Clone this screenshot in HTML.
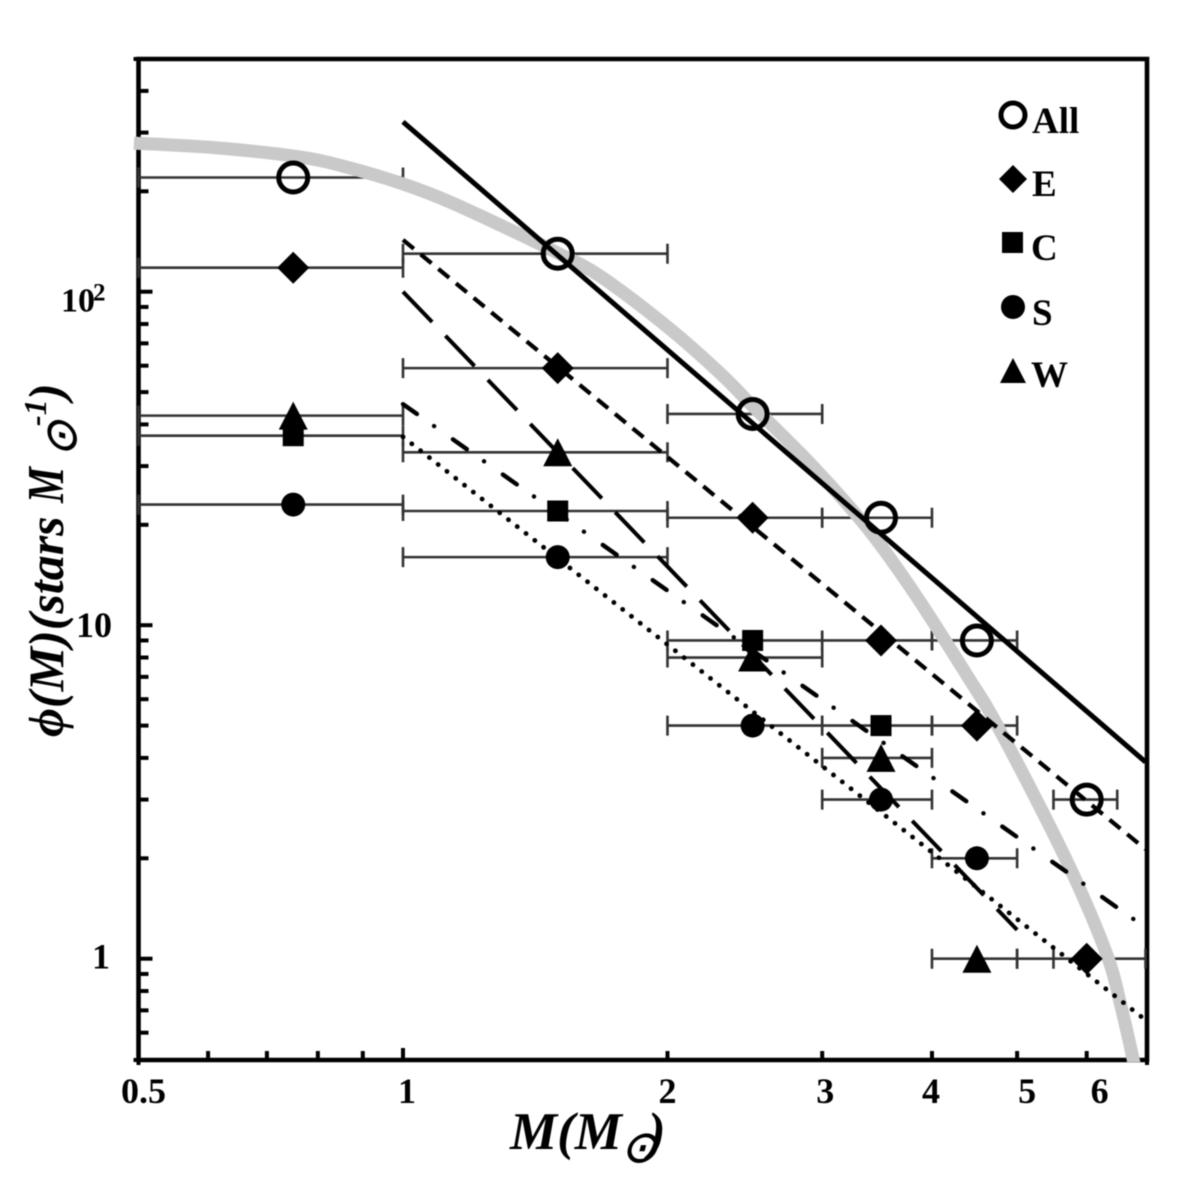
<!DOCTYPE html>
<html lang="en">
<head>
<meta charset="utf-8">
<title>Mass function chart</title>
<style>
  html, body { margin: 0; padding: 0; background: #fff; }
  body { width: 1200px; height: 1177px; overflow: hidden; }
  svg { display: block; filter: blur(0.5px); }
  text { font-family: "Liberation Serif", "DejaVu Serif", serif; font-weight: bold; fill: #000; }
  .it { font-style: italic; }
  .sun { font-family: "DejaVu Sans", sans-serif; font-weight: normal; stroke: #000; stroke-width: 0.7; }
</style>
</head>
<body>
<svg id="chart" xmlns="http://www.w3.org/2000/svg" width="1200" height="1177" viewBox="0 0 1200 1177">
  <defs>
    <clipPath id="curve-clip"><rect x="130" y="50" width="1030" height="1012"></rect></clipPath>
  </defs>
  <rect x="0" y="0" width="1200" height="1177" fill="#fff"></rect>
  <g id="axes"></g>
  <g id="error-bars"></g>
  <g id="model-curve" clip-path="url(#curve-clip)"></g>
  <g id="fit-lines"></g>
  <g id="markers"></g>

  <g>
    <g>
      <circle cx="1013" cy="115" r="12" fill="none" stroke="#000" stroke-width="5"></circle>
      <text x="1032" y="133" font-size="37">All</text>
    </g>
    <g>
      <polygon points="1013,165 1027,179 1013,193 999,179" fill="#000"></polygon>
      <text x="1032" y="196" font-size="37">E</text>
    </g>
    <g>
      <rect x="1002" y="232" width="21" height="21" fill="#000"></rect>
      <text x="1031" y="260" font-size="37">C</text>
    </g>
    <g>
      <circle cx="1013" cy="307" r="12" fill="#000"></circle>
      <text x="1032" y="325" font-size="37">S</text>
    </g>
    <g>
      <polygon points="1013,358 1026,383 1000,383" fill="#000"></polygon>
      <text x="1031" y="387" font-size="37">W</text>
    </g>
  </g>

  <g>
    <text class="it" x="510" y="1149" font-size="53">M(M</text>
    <text class="sun" transform="translate(639,1162) skewX(-15)" font-size="44" text-anchor="middle">⊙</text>
    <text class="it" x="648" y="1149" font-size="53">)</text>
  </g>
  <g>
    <text class="it" transform="translate(63,737) rotate(-90)" font-size="50">ϕ(M)(stars</text>
    <text class="it" transform="translate(63,503) rotate(-90)" font-size="52" textLength="36" lengthAdjust="spacingAndGlyphs">M</text>
    <text class="sun" transform="translate(76,439) rotate(-90) skewX(-15)" font-size="44" text-anchor="middle">⊙</text>
    <text class="it" transform="translate(46,426) rotate(-90)" font-size="32">-1</text>
    <text class="it" transform="translate(63,400) rotate(-90)" font-size="50">)</text>
  </g>
</svg>

<script>
// ---- chart data ----
const xMinorTicks = [0.5, 0.6, 0.7, 0.8, 0.9, 1, 2, 3, 4, 5, 6, 7];
const xTickLabels = ['0.5', '1', '2', '3', '4', '5', '6'];
const xTickLabelValues = [0.5, 1, 2, 3, 4, 5, 6];
const yTicks = [0.5, 0.6, 0.7, 0.8, 0.9, 1, 2, 3, 4, 5, 6, 7, 8, 9, 10, 20, 30, 40, 50, 60, 70, 80, 90, 100, 200, 300, 400, 500];
const yMajorTicks = [1, 10, 100];

const allMass = [0.75, 1.5, 2.5, 3.5, 4.5, 6];
const allPhi = [220, 130, 43, 21, 9, 3];
const allLow = [0.5, 1, 2, 3, 4, 5.5];
const allHigh = [1, 2, 3, 4, 5, 6.5];

const eMass = [0.75, 1.5, 2.5, 3.5, 4.5, 6];
const ePhi = [118, 59, 21, 9, 5, 1];
const eLow = [0.5, 1, 2, 3, 4, 5];
const eHigh = [1, 2, 3, 4, 5, 7];

const cMass = [0.75, 1.5, 2.5, 3.5];
const cPhi = [37, 22, 9, 5];
const cLow = [0.5, 1, 2, 3];
const cHigh = [1, 2, 3, 4];

const sMass = [0.75, 1.5, 2.5, 3.5, 4.5];
const sPhi = [23, 16, 5, 3, 2];
const sLow = [0.5, 1, 2, 3, 4];
const sHigh = [1, 2, 3, 4, 5];

const wMass = [0.75, 1.5, 2.5, 3.5, 4.5];
const wPhi = [42.5, 33, 8, 4, 1];
const wLow = [0.5, 1, 2, 3, 4];
const wHigh = [1, 2, 3, 4, 5];

// lone cap visible on the phi = 1 row at mass 5.5
const extraCapPhi = [1];
const extraCapMass = [5.5];

// fit lines (mass, phi at each end)
const fitAllMass = [1, 7];
const fitAllPhi = [323, 3.89];
const fitEMass = [1, 7];
const fitEPhi = [143, 2.13];
const fitWMass = [1, 5];
const fitWPhi = [100, 1.22];
const fitCMass = [1, 7];
const fitCPhi = [46, 1.24];
const fitSMass = [1, 7];
const fitSPhi = [36.7, 0.655];

// thick grey model curve
const curveMass = [0.494, 0.614, 0.763, 0.87, 1, 1.131, 1.348, 1.5, 1.676, 2, 2.295, 2.5, 2.905, 3.338, 3.65, 3.98, 4.44, 4.69, 5.31, 5.85, 6.35, 6.56, 6.78, 6.83];
const curvePhi = [279, 270, 253.5, 235, 210.4, 185.8, 150, 130.6, 111.4, 78.4, 57, 45.4, 30.6, 20.3, 14.84, 10.58, 6.71, 5.3, 2.85, 1.687, 1, 0.726, 0.497, 0.448];

// ---- axis functions ----
const xScale = function (m) { return 403 + 878.6 * Math.log10(m); };
const yScale = function (v) { return 958.7 - 333.5 * Math.log10(v); };

const NS = 'http://www.w3.org/2000/svg';
function make(tag, parent, attrs) {
  const node = document.createElementNS(NS, tag);
  Object.keys(attrs).forEach(function (k) { node.setAttribute(k, attrs[k]); });
  parent.appendChild(node);
  return node;
}

// ---- axes ----
const axes = document.getElementById('axes');
const X0 = xScale(0.5), X1 = xScale(7) + 1.5, Y0 = 1060, Y1 = 59;

const frame = make('path', axes, {
  d: 'M' + X0 + ' ' + Y1 + 'H' + X1 + 'V' + Y0 + 'H' + X0 + 'Z',
  fill: 'none', stroke: '#000', 'stroke-width': 4.6
});



xMinorTicks.forEach(function (m) {
  const px = m === 7 ? X1 : (m === 0.5 ? X0 : xScale(m));
  const len = m === 1 ? 12 : 9;
  const tick = make('line', axes, { x1: px, x2: px, y1: Y0 - len, y2: (m === 7 || m === 0.5) ? Y0 + 5 : Y0, stroke: '#000', 'stroke-width': 4 });
  
  
});

xTickLabels.forEach(function (label, i) {
  const nudge = [5, 4, 0, 3, -1, 10, 13][i];
  const t = make('text', axes, { x: xScale(xTickLabelValues[i]) + nudge, y: 1103, 'font-size': 36, 'text-anchor': 'middle' });
  t.textContent = label;
  
  
});

yTicks.forEach(function (v) {
  const major = yMajorTicks.indexOf(v) >= 0;
  const py = v === 0.5 ? Y0 : (v === 500 ? Y1 : yScale(v));
  const end = major ? X0 + 14 : X0 + 10;
  const start = (v === 0.5 || v === 500) ? X0 - 5 : X0;
  const tick = make('line', axes, { x1: start, x2: end, y1: py, y2: py, stroke: '#000', 'stroke-width': 4 });
  
  
});

const yLabel100 = make('text', axes, { x: 61, y: yScale(100) + 20, 'font-size': 34 });
yLabel100.textContent = '10';


const yLabel100Exp = make('text', axes, { x: 93, y: yScale(100) + 9, 'font-size': 25 });
yLabel100Exp.textContent = '2';


const yLabel10 = make('text', axes, { x: 76, y: yScale(10) + 12, 'font-size': 36 });
yLabel10.textContent = '10';


const yLabel1 = make('text', axes, { x: 92, y: yScale(1) + 10, 'font-size': 36 });
yLabel1.textContent = '1';



// ---- error bars ----
const errGroup = document.getElementById('error-bars');
function drawErrorBars(phi, low, high) {
  phi.forEach(function (v, i) {
    const py = yScale(v);
    const a = xScale(low[i]), b = xScale(high[i]);
    const bar = make('path', errGroup, {
      d: 'M' + a + ' ' + py + 'H' + b + 'M' + a + ' ' + (py - 10) + 'V' + (py + 10) + 'M' + b + ' ' + (py - 10) + 'V' + (py + 10),
      fill: 'none', stroke: '#333', 'stroke-width': 2.6
    });
    
    
  });
}
drawErrorBars(allPhi, allLow, allHigh);
drawErrorBars(ePhi, eLow, eHigh);
drawErrorBars(cPhi, cLow, cHigh);
drawErrorBars(sPhi, sLow, sHigh);
drawErrorBars(wPhi, wLow, wHigh);
drawErrorBars(extraCapPhi, extraCapMass, extraCapMass);

// ---- grey model curve (smoothed through the read values) ----
const curveGroup = document.getElementById('model-curve');
const cp = curveMass.map(function (m, i) { return [xScale(m), yScale(curvePhi[i])]; });
let curveD = 'M' + cp[0][0] + ' ' + cp[0][1];
for (let i = 0; i < cp.length - 1; i++) {
  const p0 = cp[Math.max(i - 1, 0)], p1 = cp[i], p2 = cp[i + 1], p3 = cp[Math.min(i + 2, cp.length - 1)];
  curveD += 'C' + (p1[0] + (p2[0] - p0[0]) / 6) + ' ' + (p1[1] + (p2[1] - p0[1]) / 6) + ' ' +
            (p2[0] - (p3[0] - p1[0]) / 6) + ' ' + (p2[1] - (p3[1] - p1[1]) / 6) + ' ' + p2[0] + ' ' + p2[1];
}
const curve = make('path', curveGroup, { d: curveD, fill: 'none', stroke: '#c9c9c9', 'stroke-width': 13 });



// ---- fit lines ----
const fitGroup = document.getElementById('fit-lines');
function pathFor(mass, phi) {
  return mass.map(function (m, i) { return (i ? 'L' : 'M') + xScale(m) + ' ' + yScale(phi[i]); }).join('');
}
const fitAll = make('path', fitGroup, { d: pathFor(fitAllMass, fitAllPhi), fill: 'none', stroke: '#000', 'stroke-width': 5 });


const fitE = make('path', fitGroup, { d: pathFor(fitEMass, fitEPhi), fill: 'none', stroke: '#000', 'stroke-width': 4.2, 'stroke-dasharray': '14 8.85' });


const fitW = make('path', fitGroup, { d: pathFor(fitWMass, fitWPhi), fill: 'none', stroke: '#000', 'stroke-width': 4, 'stroke-dasharray': '42 19.2' });


const fitC = make('path', fitGroup, { d: pathFor(fitCMass, fitCPhi), fill: 'none', stroke: '#000', 'stroke-width': 4.4, 'stroke-linecap': 'round', 'stroke-dasharray': '17 21 0.1 23' });


const fitS = make('path', fitGroup, { d: pathFor(fitSMass, fitSPhi), fill: 'none', stroke: '#000', 'stroke-width': 4.8, 'stroke-linecap': 'round', 'stroke-dasharray': '0.1 11.07' });



// ---- markers ----
const markerGroup = document.getElementById('markers');
wMass.forEach(function (m, i) {
  const x = xScale(m), y = yScale(wPhi[i]);
  const mk = make('polygon', markerGroup, { points: x + ',' + (y - 14) + ' ' + (x + 14.5) + ',' + (y + 14) + ' ' + (x - 14.5) + ',' + (y + 14), fill: '#000' });
  
  
});
cMass.forEach(function (m, i) {
  const x = xScale(m), y = yScale(cPhi[i]);
  const mk = make('rect', markerGroup, { x: x - 10.5, y: y - 10.5, width: 21, height: 21, fill: '#000' });
  
  
});
sMass.forEach(function (m, i) {
  const mk = make('circle', markerGroup, { cx: xScale(m), cy: yScale(sPhi[i]), r: 12, fill: '#000' });
  
  
});
eMass.forEach(function (m, i) {
  const x = xScale(m), y = yScale(ePhi[i]);
  const mk = make('polygon', markerGroup, { points: x + ',' + (y - 16) + ' ' + (x + 16) + ',' + y + ' ' + x + ',' + (y + 16) + ' ' + (x - 16) + ',' + y, fill: '#000' });
  
  
});
allMass.forEach(function (m, i) {
  const mk = make('circle', markerGroup, { cx: xScale(m), cy: yScale(allPhi[i]), r: 14.5, fill: 'none', stroke: '#000', 'stroke-width': 5 });
  
  
});
</script>
</body>
</html>
